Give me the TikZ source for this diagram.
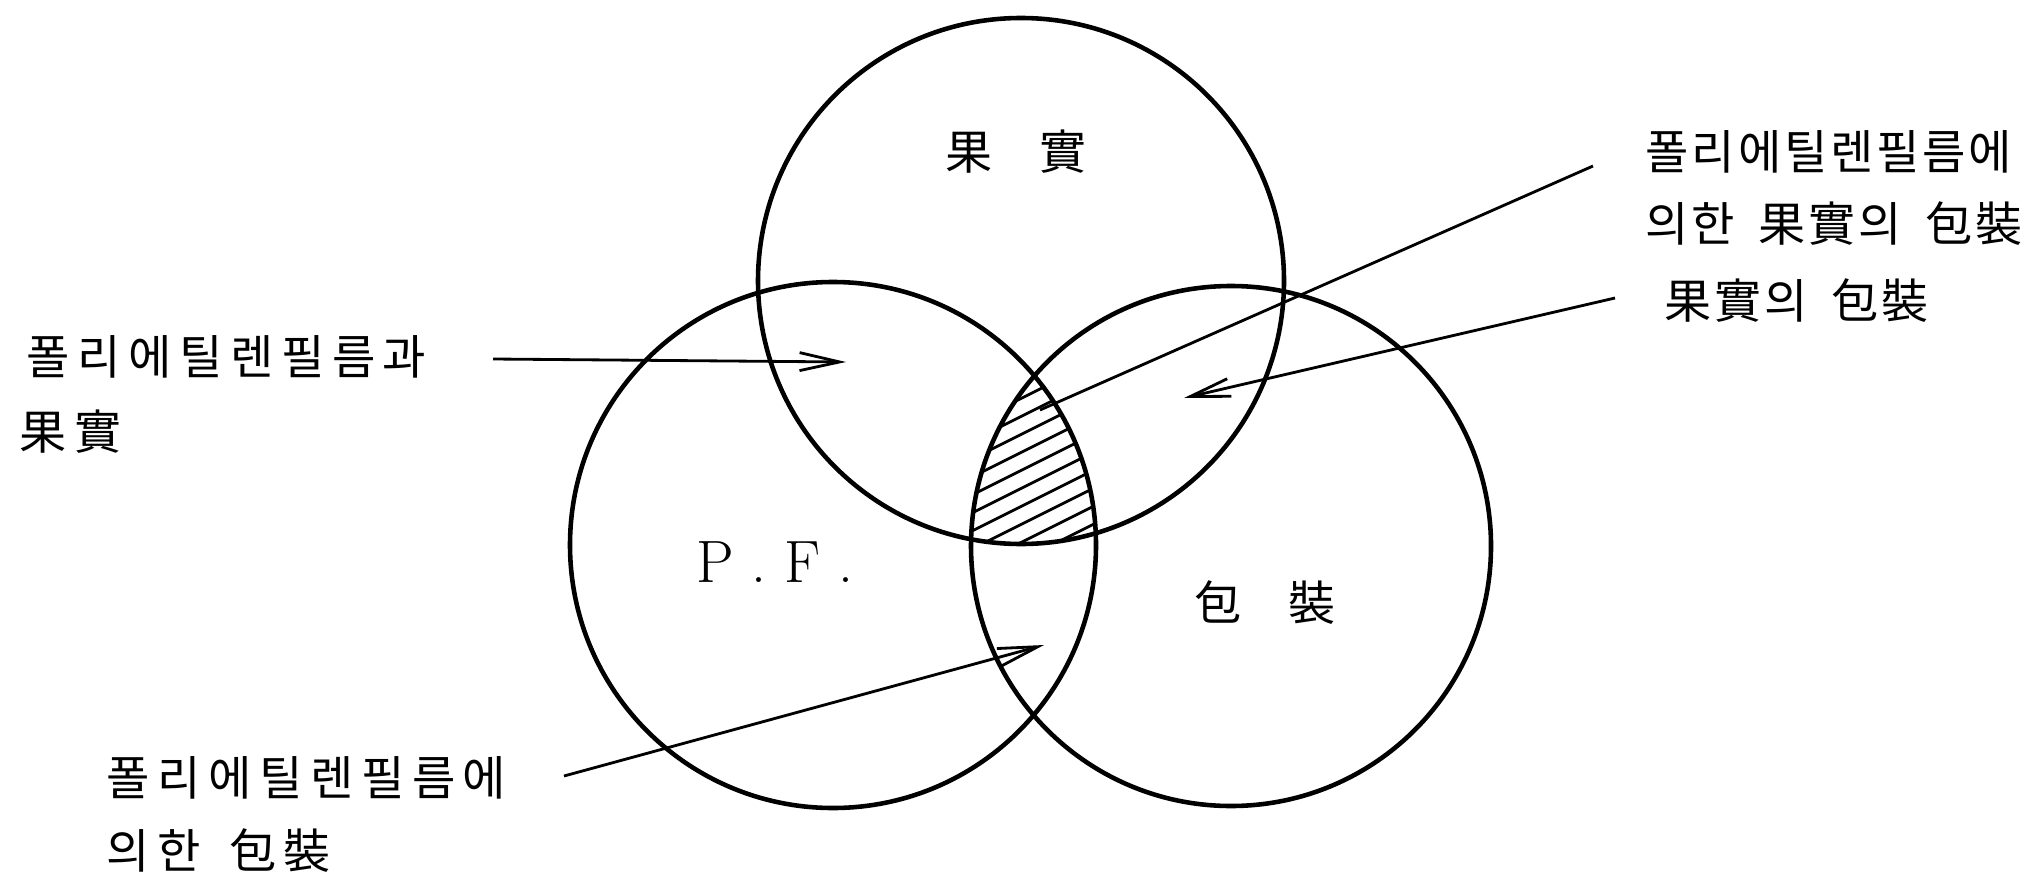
\documentclass[tikz,border=0pt]{standalone}
\usepackage{fontspec}
\newfontfamily\krwide[LetterSpace=16]{Noto Sans CJK KR}
\newfontfamily\krfont[LetterSpace=6]{Noto Sans CJK KR}
\newfontfamily\krtight{Noto Sans CJK KR}
\newcommand{\gap}{\ \hspace{0.1cm}}
\usetikzlibrary{arrows.meta, positioning}

\begin{document}
\begin{tikzpicture}[x=0.01cm, y=-0.01cm,
    ring/.style={draw=black, line width=1.3pt},
    lbl/.style={font=\krfont\fontsize{13.4pt}{16pt}\selectfont, inner sep=0pt, anchor=west},
    lblwide/.style={lbl, font=\krwide\fontsize{13.4pt}{16pt}\selectfont},
    tag/.style={font=\krtight\fontsize{13.4pt}{16pt}\selectfont, inner sep=0pt},
    ptr/.style={line width=0.8pt, -{Straight Barb[length=4mm, width=1.8mm]}},
    hatch/.style={line width=0.8pt}
  ]
  \useasboundingbox (0,0) rectangle (2034,873);

  % circle centres
  \coordinate (fruit) at (1021,281);
  \coordinate (film) at (833,545);
  \coordinate (pack) at (1231,546);

  % hatched part common to all three
  \begin{scope}
    \clip (fruit) circle (263);
    \clip (film) circle (263);
    \clip (pack) circle (260);
    \foreach \k in {0,...,14} {
      \draw[hatch] (950,380+18*\k) -- ++(200,-100);
    }
  \end{scope}

  \draw[ring] (fruit) circle (263);
  \draw[ring] (film) circle (263);
  \draw[ring] (pack) circle (260);

  % names inside the circles
  \node[tag] (fruitname) at (1016,152) {果　實};
  \node[font=\fontsize{17pt}{20pt}\selectfont, inner sep=0pt] (filmname) at (775,562) {P . F .};
  \node[tag] (packname) at (1265,603) {包　裝};

  % labels
  \node[lblwide] (filmfruitA) at (26,357) {폴리에틸렌필름과};
  \node[lblwide] (filmfruitB) at (19,432) {果實};
  \node[lbl] (allA) at (1645,152) {폴리에틸렌필름에};
  \node[lbl] (allB) at (1645,224) {의한\gap 果實의\gap 包裝};
  \node[lbl] (fruitpack) at (1664,301) {果實의\gap 包裝};
  \node[lblwide] (filmpackA) at (106,778) {폴리에틸렌필름에};
  \node[lblwide] (filmpackB) at (106,851) {의한\gap 包裝};

  % pointers
  \coordinate (ffT) at (493,359);
  \coordinate (ffH) at (846,362);
  \coordinate (allT) at (1593,166);
  \coordinate (allH) at (1040,410);
  \coordinate (fpT) at (1615,298);
  \coordinate (fpH) at (1184,398);
  \coordinate (pfT) at (564,776);
  \coordinate (pfH) at (1044,645);

  \draw[ptr] (ffT) -- (ffH);
  \draw[line width=0.8pt] (allT) -- (allH);
  \draw[ptr] (fpT) -- (fpH);
  \draw[ptr] (pfT) -- (pfH);
\end{tikzpicture}
\end{document}
